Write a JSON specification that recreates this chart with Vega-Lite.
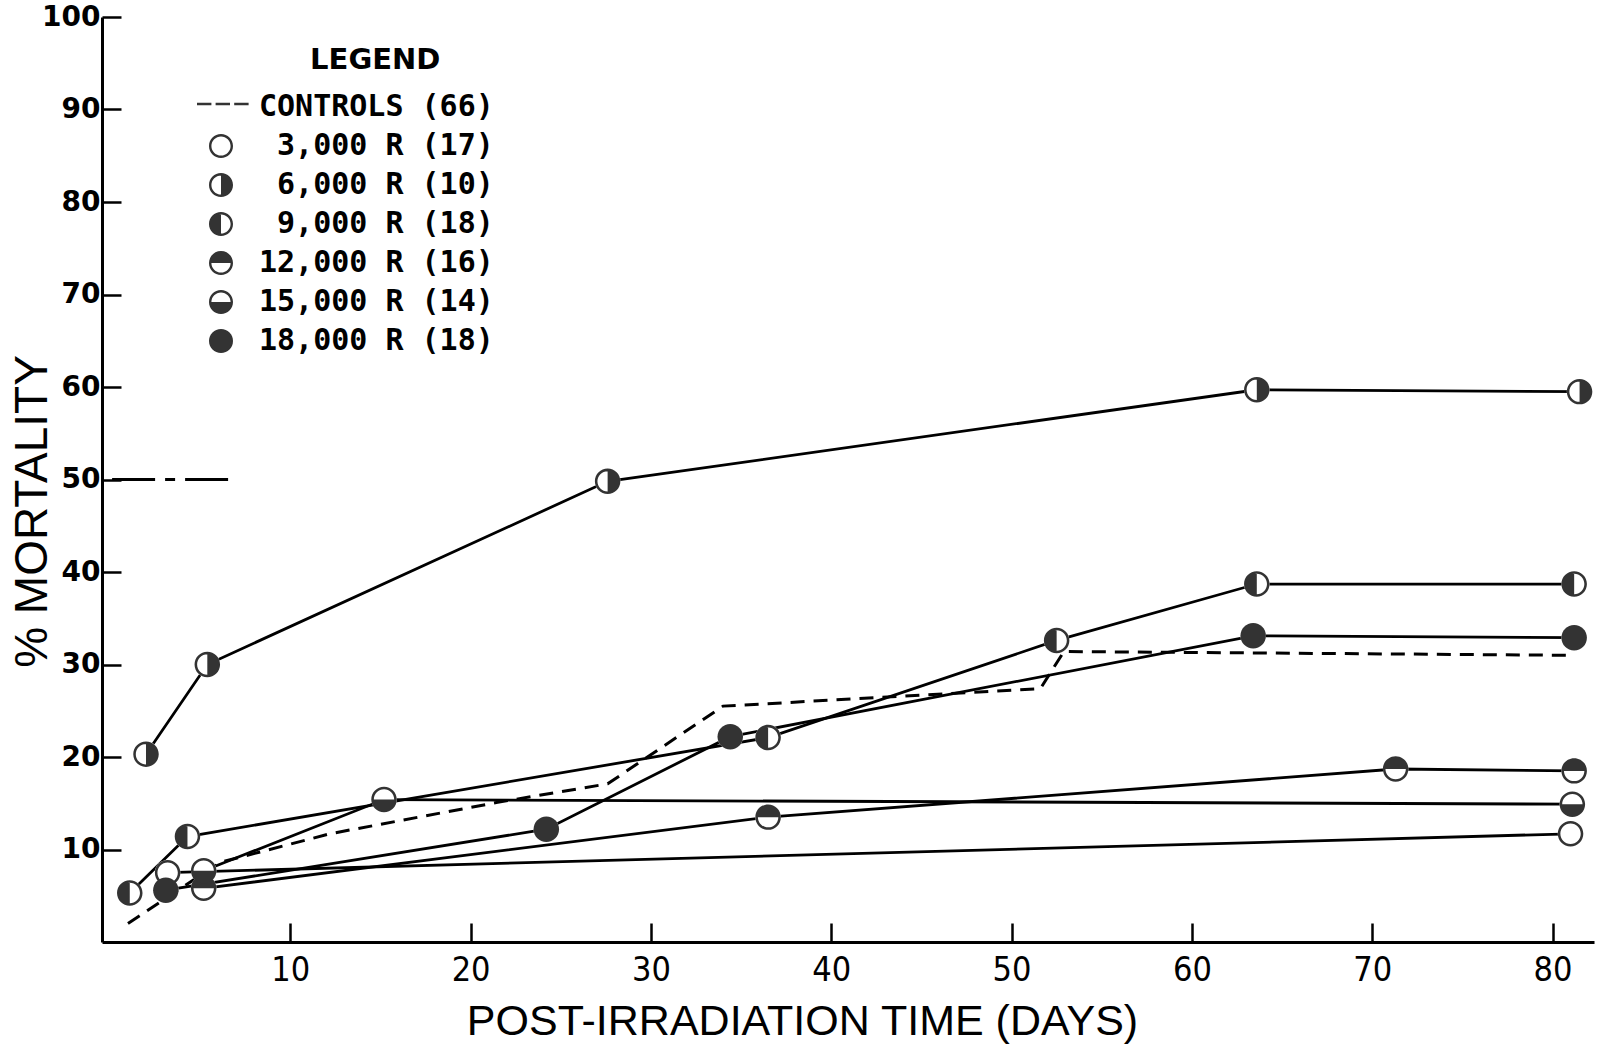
{
  "$schema": "https://vega.github.io/schema/vega-lite/v6.json",
  "width": 1492,
  "height": 925,
  "autosize": {"type": "none"},
  "padding": {"left": 102, "top": 17, "right": 8, "bottom": 103},
  "background": "white",
  "config": {"view": {"stroke": null}, "axis": {"grid": false}},
  "datasets": {
    "pts": [
      {"series": "3,000 R", "day": 3.2, "pct": 7.5},
      {"series": "3,000 R", "day": 81.0, "pct": 11.7},
      {"series": "6,000 R", "day": 2.0, "pct": 20.3},
      {"series": "6,000 R", "day": 5.4, "pct": 30.0},
      {"series": "6,000 R", "day": 27.6, "pct": 49.8},
      {"series": "6,000 R", "day": 63.6, "pct": 59.7},
      {"series": "6,000 R", "day": 81.5, "pct": 59.5},
      {"series": "9,000 R", "day": 1.1, "pct": 5.3},
      {"series": "9,000 R", "day": 4.3, "pct": 11.4},
      {"series": "9,000 R", "day": 36.5, "pct": 22.1},
      {"series": "9,000 R", "day": 52.5, "pct": 32.6},
      {"series": "9,000 R", "day": 63.6, "pct": 38.7},
      {"series": "9,000 R", "day": 81.2, "pct": 38.7},
      {"series": "12,000 R", "day": 5.2, "pct": 5.8},
      {"series": "12,000 R", "day": 36.5, "pct": 13.5},
      {"series": "12,000 R", "day": 71.3, "pct": 18.7},
      {"series": "12,000 R", "day": 81.2, "pct": 18.5},
      {"series": "15,000 R", "day": 5.2, "pct": 7.7},
      {"series": "15,000 R", "day": 15.2, "pct": 15.4},
      {"series": "15,000 R", "day": 81.1, "pct": 14.9},
      {"series": "18,000 R", "day": 3.1, "pct": 5.6},
      {"series": "18,000 R", "day": 24.2, "pct": 12.2},
      {"series": "18,000 R", "day": 34.4, "pct": 22.2},
      {"series": "18,000 R", "day": 63.4, "pct": 33.1},
      {"series": "18,000 R", "day": 81.2, "pct": 32.9}
    ],
    "controls": [
      {"day": 1.0, "pct": 2.0},
      {"day": 6.1, "pct": 8.6},
      {"day": 12.2, "pct": 11.7},
      {"day": 21.5, "pct": 15.1},
      {"day": 27.6, "pct": 17.1},
      {"day": 34.0, "pct": 25.5},
      {"day": 51.6, "pct": 27.4},
      {"day": 52.9, "pct": 31.4},
      {"day": 80.8, "pct": 31.0}
    ],
    "ld50": [{"day": 0.12, "day2": 6.58, "pct": 50}]
  },
  "encoding": {
    "x": {
      "field": "day",
      "type": "quantitative",
      "scale": {"domain": [-0.44, 82.3], "nice": false, "zero": false},
      "axis": {
        "values": [10, 20, 30, 40, 50, 60, 70, 80],
        "title": "POST-IRRADIATION  TIME (DAYS)",
        "domainColor": "black",
        "domainWidth": 3,
        "tickColor": "black",
        "tickWidth": 2.5,
        "tickSize": -19,
        "labelFont": "Liberation Sans Narrow, DejaVu Sans Condensed, Liberation Sans",
        "labelFontSize": 34,
        "labelColor": "black",
        "labelPadding": 30,
        "labelBaseline": "top",
        "titleFont": "Liberation Sans",
        "titleFontSize": 43,
        "titleFontWeight": "normal",
        "titleColor": "black",
        "titleX": 700,
        "titleY": 58,
        "titleAlign": "center",
        "titleBaseline": "top"
      }
    },
    "y": {
      "field": "pct",
      "type": "quantitative",
      "scale": {"domain": [0, 100], "nice": false, "zero": true},
      "axis": {
        "values": [10, 20, 30, 40, 50, 60, 70, 80, 90, 100],
        "title": "% MORTALITY",
        "domainColor": "black",
        "domainWidth": 3,
        "tickColor": "black",
        "tickWidth": 2.5,
        "tickSize": -19,
        "labelFont": "DejaVu Sans",
        "labelFontWeight": "bold",
        "labelFontSize": 28,
        "labelColor": "black",
        "labelPadding": 21,
        "titleFont": "Liberation Sans",
        "titleFontSize": 46,
        "titleFontWeight": "normal",
        "titleColor": "black",
        "titleAngle": -90,
        "titleX": -56,
        "titleY": 494,
        "titleAlign": "center",
        "titleBaseline": "alphabetic"
      }
    }
  },
  "layer": [
    {
      "data": {"name": "ld50"},
      "mark": {"type": "rule", "color": "black", "strokeWidth": 3, "strokeDash": [43, 10, 10, 10, 43]},
      "encoding": {"x2": {"field": "day2"}}
    },
    {
      "data": {"name": "controls"},
      "mark": {"type": "line", "color": "black", "strokeWidth": 3, "strokeDash": [14, 9]},
      "encoding": {}
    },
    {
      "data": {"name": "pts"},
      "mark": {"type": "line", "color": "black", "strokeWidth": 2.8},
      "encoding": {"detail": {"field": "series", "type": "nominal"}}
    },
    {
      "data": {"name": "pts"},
      "mark": {"type": "point", "shape": "circle", "filled": true, "color": "white", "opacity": 1, "size": 650, "strokeWidth": 0}
    },
    {
      "data": {"name": "pts"},
      "mark": {"type": "point", "filled": true, "color": "#333333", "opacity": 1, "size": 650, "strokeWidth": 0},
      "encoding": {
        "shape": {
          "field": "series",
          "type": "nominal",
          "scale": {
            "domain": ["CONTROLS", "3,000 R", "6,000 R", "9,000 R", "12,000 R", "15,000 R", "18,000 R"],
            "range": [
              "M -2.0 -0.36 H -0.8 V -0.14 H -2.0 Z M -0.45 -0.36 H 0.75 V -0.14 H -0.45 Z M 1.1 -0.36 H 2.3 V -0.14 H 1.1 Z",
              "M 1 0 A 1 1 0 1 1 -1 0 A 1 1 0 1 1 1 0 Z M 0.8 0 A 0.8 0.8 0 1 0 -0.8 0 A 0.8 0.8 0 1 0 0.8 0 Z",
              "M 1 0 A 1 1 0 1 1 -1 0 A 1 1 0 1 1 1 0 Z M 0.8 0 A 0.8 0.8 0 1 0 -0.8 0 A 0.8 0.8 0 1 0 0.8 0 Z M 0 -0.82 A 0.82 0.82 0 0 1 0 0.82 Z",
              "M 1 0 A 1 1 0 1 1 -1 0 A 1 1 0 1 1 1 0 Z M 0.8 0 A 0.8 0.8 0 1 0 -0.8 0 A 0.8 0.8 0 1 0 0.8 0 Z M 0 0.82 A 0.82 0.82 0 0 1 0 -0.82 Z",
              "M 1 0 A 1 1 0 1 1 -1 0 A 1 1 0 1 1 1 0 Z M 0.8 0 A 0.8 0.8 0 1 0 -0.8 0 A 0.8 0.8 0 1 0 0.8 0 Z M -0.82 0 A 0.82 0.82 0 0 1 0.82 0 Z",
              "M 1 0 A 1 1 0 1 1 -1 0 A 1 1 0 1 1 1 0 Z M 0.8 0 A 0.8 0.8 0 1 0 -0.8 0 A 0.8 0.8 0 1 0 0.8 0 Z M 0.82 0 A 0.82 0.82 0 0 1 -0.82 0 Z",
              "M 1 0 A 1 1 0 1 1 -1 0 A 1 1 0 1 1 1 0 Z"
            ]
          },
          "legend": {
            "orient": "none",
            "legendX": 104,
            "legendY": 29,
            "padding": 0,
            "title": "\u200b\u00a0\u00a0\u00a0\u00a0\u00a0LEGEND",
            "titleFont": "DejaVu Sans",
            "titleFontSize": 29,
            "titleFontWeight": "bold",
            "titleColor": "black",
            "titleAnchor": "middle",
            "titleLimit": 600,
            "titlePadding": 17,
            "labelFont": "DejaVu Sans Mono",
            "labelFontSize": 30,
            "labelFontWeight": "bold",
            "labelColor": "black",
            "labelOffset": 23,
            "labelLimit": 600,
            "symbolSize": 576,
            "symbolFillColor": "#333333",
            "symbolStrokeColor": "#333333",
            "symbolStrokeWidth": 0,
            "symbolOpacity": 1,
            "rowPadding": 9,
            "labelExpr": "datum.value == 'CONTROLS' ? 'CONTROLS (66)' : datum.value == '3,000 R' ? '\u200b\u00a03,000 R (17)' : datum.value == '6,000 R' ? '\u200b\u00a06,000 R (10)' : datum.value == '9,000 R' ? '\u200b\u00a09,000 R (18)' : datum.value == '12,000 R' ? '12,000 R (16)' : datum.value == '15,000 R' ? '15,000 R (14)' : '18,000 R (18)'"
          }
        }
      }
    }
  ]
}
